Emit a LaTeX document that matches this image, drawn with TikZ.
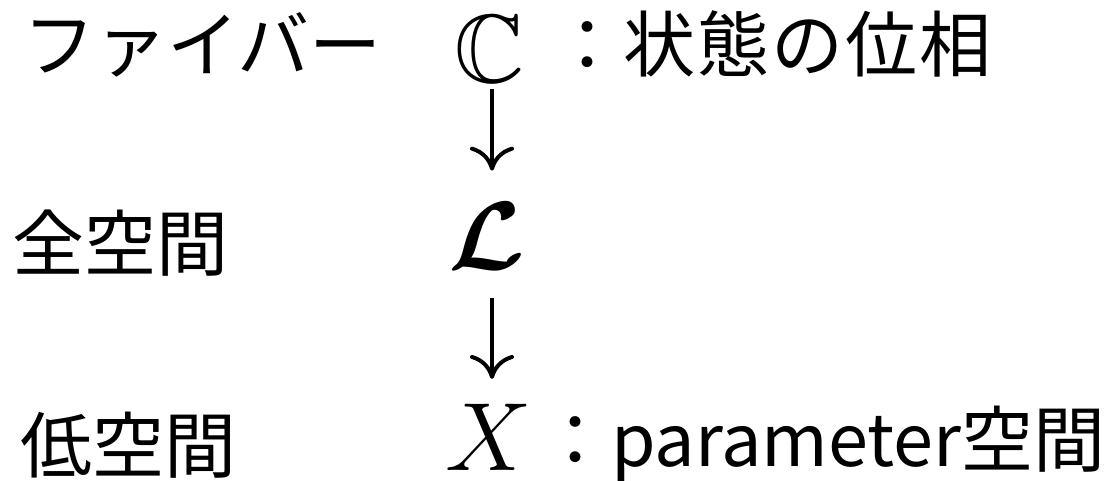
\documentclass[tikz,border=0pt]{standalone}
\usepackage{amsmath,amssymb,bm}
\usepackage{fontspec}
\newfontfamily\jp{Noto Sans CJK JP}
\usetikzlibrary{arrows.meta}
\begin{document}
\begin{tikzpicture}[x=1pt,y=1pt,
  jtext/.style={anchor=base west,inner sep=0pt,font=\jp\fontsize{72}{80}\selectfont},
  mtext/.style={anchor=base,inner sep=0pt,scale=3.9,font=\Huge},
  arr/.style={line width=4pt,-{To[length=24pt,width=44pt]}}]
\useasboundingbox (0,0) rectangle (1119,-480);
\node[jtext] (fib) at (23,-71) {ファイバー};
\node[jtext] (fibd) at (551,-71) {：状\kern2pt 態\kern2pt の\kern2pt 位\kern2pt 相};
\node[jtext] (tot) at (12,-270) {全空間};
\node[jtext] (base) at (20,-472) {低空間};
\node[jtext] (based) at (539,-466) {：parameter空間};
\node[mtext] (C) at (490,-82) {$\mathbb{C}$};
\node[mtext] (L) at (487,-269) {$\bm{\mathcal{L}}$};
\node[mtext] (X) at (489,-470) {$X$};
\draw[arr,shorten <=6pt,shorten >=31pt] ([xshift=2pt]C.south) -- ([xshift=2pt]C.south |- L.north);
\draw[arr,shorten <=28pt,shorten >=24pt] ([xshift=2pt]C.south |- L.south) -- ([xshift=2pt]C.south |- X.north);
\end{tikzpicture}
\end{document}
